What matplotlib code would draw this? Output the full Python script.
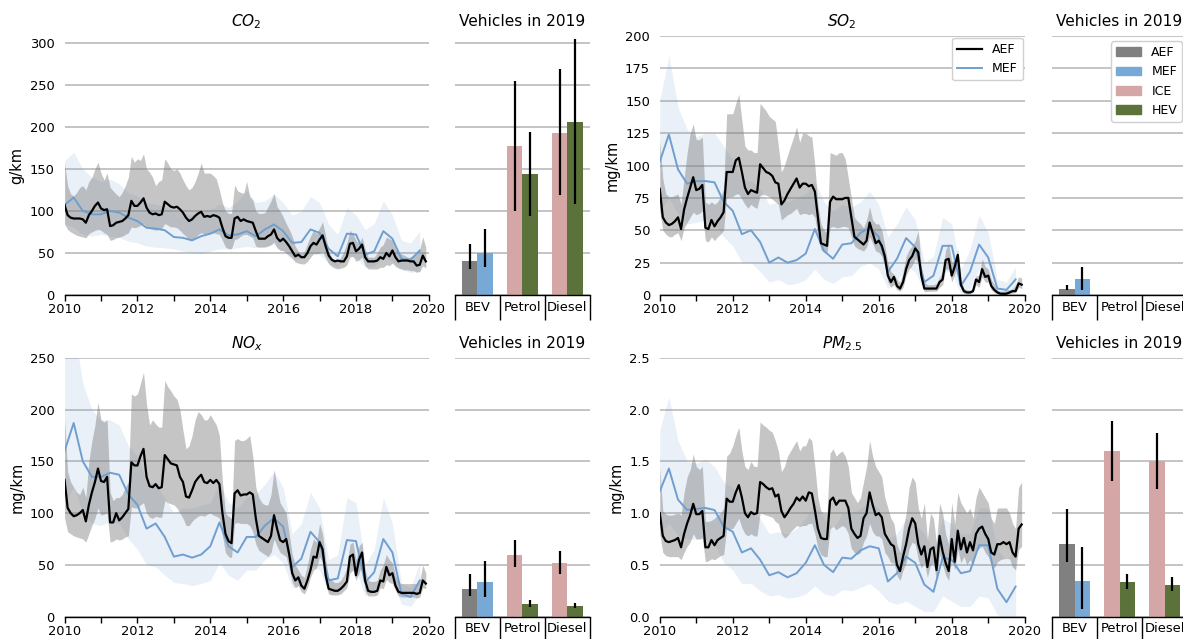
import numpy as np
import matplotlib
matplotlib.use('Agg')
import matplotlib.pyplot as plt
from matplotlib.patches import Patch
from matplotlib.lines import Line2D
from matplotlib.ticker import MultipleLocator

plt.rcParams['font.family'] = ['DejaVu Sans']

# ---------------- data ----------------
start_year = 2010
categories = ['BEV', 'Petrol', 'Diesel']

# CO2 (g/km) - monthly average emission factor (AEF) with band
co2_aef = [107, 95, 92, 91, 91, 91, 90, 86, 95, 100, 106, 110,
           103, 101, 102, 82, 83, 86, 87, 88, 91, 95, 112, 106,
           106, 110, 115, 104, 98, 96, 97, 95, 96, 111, 108, 105,
           104, 105, 102, 98, 92, 88, 90, 94, 97, 99, 93, 94,
           93, 95, 94, 92, 80, 70, 68, 68, 91, 93, 88, 90,
           88, 87, 86, 76, 67, 67, 67, 70, 72, 78, 68, 64,
           67, 63, 58, 52, 46, 48, 45, 45, 50, 58, 62, 60,
           66, 71, 58, 47, 42, 40, 41, 40, 40, 46, 61, 62,
           52, 55, 60, 45, 40, 40, 40, 41, 45, 43, 50, 46,
           53, 45, 40, 41, 41, 41, 40, 40, 35, 36, 47, 40]
co2_aef_hi = [157, 130, 120, 118, 122, 128, 130, 125, 135, 140, 150, 158,
              145, 137, 145, 128, 124, 120, 117, 122, 130, 140, 165, 158,
              162, 160, 168, 150, 146, 140, 130, 135, 137, 162, 157, 150,
              148, 150, 145, 137, 130, 125, 128, 135, 145, 157, 145, 145,
              145, 142, 138, 125, 110, 100, 97, 97, 131, 124, 122, 121,
              135, 117, 113, 100, 97, 97, 98, 105, 112, 121, 105, 100,
              93, 85, 78, 70, 58, 52, 49, 52, 61, 70, 77, 73,
              80, 87, 70, 52, 45, 42, 41, 45, 52, 62, 77, 73,
              65, 61, 69, 55, 45, 45, 45, 50, 57, 60, 69, 67,
              65, 55, 50, 49, 47, 45, 45, 47, 49, 55, 69, 57]
co2_aef_lo = [84, 78, 75, 73, 71, 70, 69, 68, 73, 75, 77, 78,
              77, 74, 72, 65, 66, 68, 69, 70, 72, 74, 81, 80,
              81, 83, 85, 81, 79, 78, 77, 78, 79, 85, 83, 81,
              81, 80, 77, 73, 70, 66, 65, 68, 72, 74, 73, 73,
              73, 74, 73, 72, 65, 57, 55, 55, 66, 67, 70, 72,
              72, 70, 68, 58, 57, 57, 57, 58, 60, 63, 56, 53,
              53, 50, 47, 44, 39, 38, 37, 37, 40, 45, 49, 49,
              50, 52, 44, 37, 34, 32, 31, 32, 33, 36, 45, 46,
              40, 42, 45, 35, 31, 31, 31, 31, 33, 33, 36, 35,
              38, 34, 32, 31, 30, 30, 29, 29, 27, 28, 35, 32]
# CO2 quarterly marginal emission factor (MEF) with band
co2_mef = [107, 116, 100, 96, 96, 100, 98, 92, 88, 80, 79, 77, 69, 68, 65, 70, 73, 78, 71, 72,
           76, 70, 78, 84, 76, 62, 63, 78, 74, 55, 46, 73, 72, 48, 52, 76, 67, 43, 42, 53]
co2_mef_hi = [160, 170, 150, 140, 135, 138, 132, 122, 118, 110, 108, 105, 100, 98, 95, 98, 102, 108, 104, 112,
              124, 110, 112, 120, 110, 95, 100, 117, 110, 84, 72, 104, 95, 78, 85, 112, 95, 65, 62, 76]
co2_mef_lo = [85, 80, 72, 70, 72, 70, 68, 64, 62, 58, 57, 56, 55, 52, 50, 49, 52, 55, 55, 56,
              58, 56, 58, 60, 52, 42, 44, 52, 48, 38, 33, 48, 44, 33, 34, 45, 40, 30, 27, 28]

# SO2 (mg/km)
so2_aef = [82, 60, 56, 54, 55, 57, 60, 51, 66, 75, 83, 91,
           81, 82, 85, 52, 51, 58, 53, 57, 60, 64, 95, 95,
           95, 104, 106, 95, 83, 78, 81, 80, 79, 101, 98, 95,
           94, 92, 87, 86, 70, 73, 78, 82, 86, 90, 83, 86,
           86, 84, 85, 80, 60, 40, 39, 38, 72, 76, 74, 74,
           74, 75, 75, 60, 45, 43, 41, 39, 42, 56, 48, 40,
           42, 38, 30, 15, 10, 14, 7, 5, 10, 20, 27, 30,
           36, 33, 15, 5, 5, 5, 5, 5, 10, 12, 27, 28,
           15, 22, 31, 8, 3, 2, 2, 3, 12, 10, 20, 14,
           15, 7, 4, 2, 1, 1, 1, 2, 3, 3, 9, 8]
so2_aef_hi = [120, 90, 78, 76, 76, 77, 78, 70, 90, 110, 125, 132,
              120, 120, 122, 72, 70, 72, 70, 72, 76, 82, 140, 140,
              140, 148, 155, 135, 115, 112, 112, 110, 110, 148, 145, 142,
              138, 136, 134, 115, 95, 100, 108, 115, 122, 130, 118, 125,
              125, 123, 122, 100, 70, 55, 50, 48, 110, 109, 108, 110,
              110, 105, 90, 75, 60, 57, 55, 52, 58, 68, 58, 55,
              55, 50, 38, 25, 18, 16, 12, 10, 18, 30, 35, 38,
              42, 50, 22, 10, 8, 8, 8, 9, 14, 18, 35, 40,
              25, 28, 35, 12, 5, 4, 4, 5, 15, 15, 28, 22,
              20, 12, 8, 4, 3, 3, 4, 4, 5, 8, 14, 13]
so2_aef_lo = [65, 50, 47, 45, 45, 47, 48, 42, 52, 56, 60, 64,
              62, 63, 65, 42, 41, 45, 42, 45, 47, 50, 75, 76,
              76, 78, 78, 74, 70, 67, 70, 68, 67, 77, 78, 77,
              76, 74, 72, 70, 58, 60, 62, 63, 65, 67, 62, 63,
              63, 62, 63, 60, 45, 35, 33, 32, 52, 53, 52, 52,
              53, 53, 52, 45, 38, 36, 35, 34, 37, 45, 40, 34,
              33, 30, 22, 10, 6, 8, 4, 3, 6, 15, 20, 23,
              28, 25, 10, 3, 3, 3, 3, 3, 6, 8, 20, 20,
              10, 16, 24, 5, 1, 1, 1, 2, 8, 6, 14, 10,
              10, 4, 2, 1, 0.5, 0.5, 0.5, 1, 1.5, 2, 6, 5]
so2_mef = [103, 124, 97, 86, 88, 88, 87, 72, 65, 47, 50, 41, 25, 29, 25, 27, 32, 51, 34, 28,
           39, 40, 48, 52, 45, 18, 28, 44, 37, 10, 15, 38, 38, 7, 18, 39, 29, 5, 4, 12]
so2_mef_hi = [150, 185, 145, 128, 122, 125, 125, 115, 105, 90, 88, 82, 70, 72, 72, 75, 78, 88, 72, 65,
              70, 68, 72, 80, 70, 45, 55, 68, 58, 25, 30, 60, 55, 20, 35, 62, 48, 12, 10, 22]
so2_mef_lo = [65, 75, 62, 55, 56, 58, 55, 45, 38, 25, 25, 18, 10, 12, 8, 9, 12, 20, 12, 9,
              14, 15, 22, 25, 20, 5, 10, 22, 18, 2, 4, 18, 18, 1, 5, 20, 12, 0, 0, 4]

# NOx (mg/km)
nox_aef = [132, 105, 100, 97, 98, 100, 103, 92, 108, 120, 130, 143,
           131, 130, 135, 91, 91, 100, 93, 96, 100, 104, 149, 146,
           146, 155, 162, 135, 126, 125, 128, 124, 125, 156, 152, 148,
           147, 146, 135, 130, 116, 115, 122, 130, 134, 137, 130, 129,
           132, 129, 132, 128, 100, 80, 73, 71, 119, 122, 117, 118,
           118, 120, 118, 95, 78, 76, 74, 72, 78, 98, 85, 74,
           72, 75, 60, 42, 35, 38, 30, 27, 35, 45, 58, 57,
           72, 65, 40, 27, 26, 25, 25, 27, 30, 34, 58, 60,
           40, 55, 62, 35, 25, 24, 24, 25, 35, 34, 48, 40,
           42, 30, 24, 23, 23, 23, 23, 23, 22, 23, 35, 32]
nox_aef_hi = [192, 140, 130, 125, 120, 118, 125, 115, 150, 170, 185, 207,
              190, 188, 190, 120, 112, 115, 115, 118, 125, 130, 215, 213,
              215, 225, 236, 205, 185, 190, 186, 183, 183, 228, 222, 218,
              213, 210, 200, 180, 162, 165, 175, 190, 198, 195, 190, 190,
              195, 190, 185, 175, 130, 100, 97, 95, 170, 172, 170, 170,
              172, 175, 155, 125, 115, 110, 108, 108, 118, 142, 125, 110,
              105, 100, 80, 60, 50, 45, 40, 38, 50, 65, 75, 72,
              90, 80, 55, 38, 35, 33, 33, 35, 40, 48, 70, 72,
              55, 68, 72, 45, 35, 34, 34, 35, 45, 50, 60, 55,
              52, 40, 33, 32, 32, 32, 32, 32, 32, 35, 50, 42]
nox_aef_lo = [95, 82, 80, 78, 77, 76, 75, 72, 80, 88, 95, 105,
              98, 99, 100, 72, 73, 75, 74, 75, 77, 78, 106, 105,
              105, 108, 110, 100, 96, 95, 97, 96, 96, 112, 110, 109,
              108, 105, 100, 95, 88, 88, 92, 95, 97, 98, 97, 99,
              100, 98, 97, 95, 78, 62, 58, 57, 90, 91, 90, 90,
              90, 88, 82, 70, 64, 62, 60, 58, 62, 75, 68, 62,
              60, 58, 46, 33, 28, 30, 24, 22, 28, 38, 45, 47,
              58, 52, 32, 22, 21, 21, 21, 22, 25, 28, 42, 45,
              35, 42, 50, 25, 20, 20, 20, 21, 28, 27, 36, 33,
              32, 25, 20, 19, 19, 19, 19, 19, 18, 19, 28, 27]
nox_mef = [160, 187, 150, 135, 135, 139, 137, 118, 108, 85, 90, 77, 58, 60, 57, 60, 68, 91, 68, 62,
           77, 77, 88, 95, 87, 48, 56, 82, 72, 35, 37, 74, 73, 33, 43, 75, 62, 22, 19, 35]
nox_mef_hi = [248, 280, 225, 200, 190, 190, 185, 165, 155, 130, 128, 115, 100, 105, 105, 108, 110, 130, 110, 105,
              115, 118, 128, 140, 125, 80, 90, 120, 105, 55, 60, 115, 110, 50, 65, 115, 90, 32, 28, 52]
nox_mef_lo = [110, 125, 100, 90, 88, 92, 90, 75, 65, 50, 48, 40, 33, 32, 30, 32, 35, 52, 40, 35,
              45, 45, 55, 60, 52, 28, 30, 50, 45, 22, 22, 45, 45, 20, 25, 45, 35, 12, 10, 22]

# PM2.5 (mg/km)
pm_aef = [1.00, 0.78, 0.73, 0.72, 0.73, 0.74, 0.76, 0.67, 0.80, 0.90, 0.98, 1.09,
          0.99, 0.99, 1.02, 0.67, 0.67, 0.74, 0.69, 0.74, 0.76, 0.78, 1.14, 1.11,
          1.11, 1.20, 1.27, 1.15, 1.00, 0.96, 1.01, 0.99, 1.00, 1.30, 1.28, 1.25,
          1.23, 1.24, 1.16, 1.18, 1.02, 0.96, 1.00, 1.05, 1.09, 1.15, 1.12, 1.16,
          1.12, 1.20, 1.19, 1.03, 0.85, 0.76, 0.75, 0.75, 1.12, 1.15, 1.08, 1.12,
          1.12, 1.12, 1.05, 0.85, 0.80, 0.76, 0.78, 0.95, 1.00, 1.20, 1.08, 0.98,
          1.00, 0.96, 0.80, 0.75, 0.70, 0.68, 0.50, 0.44, 0.58, 0.70, 0.85, 0.95,
          0.90, 0.70, 0.60, 0.68, 0.48, 0.65, 0.67, 0.45, 0.78, 0.63, 0.52, 0.44,
          0.75, 0.53, 0.83, 0.65, 0.76, 0.62, 0.72, 0.64, 0.80, 0.85, 0.87, 0.80,
          0.75, 0.62, 0.60, 0.70, 0.70, 0.72, 0.70, 0.72, 0.62, 0.58, 0.85, 0.89]
pm_aef_hi = [1.45, 1.02, 0.99, 0.98, 0.98, 0.99, 1.00, 0.98, 1.20, 1.35, 1.42, 1.57,
             1.45, 1.42, 1.45, 0.92, 0.92, 0.93, 0.95, 0.98, 1.00, 1.05, 1.55, 1.58,
             1.65, 1.75, 1.83, 1.60, 1.45, 1.42, 1.50, 1.45, 1.45, 1.88, 1.85, 1.83,
             1.80, 1.78, 1.70, 1.60, 1.40, 1.45, 1.55, 1.60, 1.65, 1.70, 1.60, 1.65,
             1.65, 1.73, 1.70, 1.45, 1.15, 1.02, 1.00, 1.00, 1.58, 1.62, 1.55, 1.58,
             1.60, 1.55, 1.45, 1.20, 1.15, 1.10, 1.15, 1.30, 1.45, 1.70, 1.55, 1.45,
             1.40, 1.35, 1.15, 1.05, 0.95, 0.90, 0.70, 0.62, 0.85, 1.00, 1.25, 1.35,
             1.30, 1.05, 0.95, 1.10, 0.75, 1.00, 0.95, 0.70, 1.10, 1.00, 0.80, 0.70,
             1.10, 0.90, 1.20, 1.10, 1.05, 1.00, 1.05, 0.95, 1.15, 1.25, 1.20, 1.15,
             1.10, 0.95, 0.90, 1.05, 1.05, 1.05, 1.05, 1.00, 0.90, 0.85, 1.25, 1.30]
pm_aef_lo = [0.80, 0.62, 0.59, 0.58, 0.58, 0.58, 0.58, 0.55, 0.62, 0.68, 0.72, 0.80,
             0.75, 0.75, 0.76, 0.53, 0.54, 0.56, 0.55, 0.57, 0.59, 0.60, 0.85, 0.85,
             0.85, 0.90, 0.95, 0.86, 0.80, 0.78, 0.80, 0.78, 0.78, 1.00, 0.99, 0.98,
             0.97, 0.96, 0.92, 0.90, 0.80, 0.76, 0.78, 0.82, 0.85, 0.88, 0.87, 0.88,
             0.88, 0.90, 0.90, 0.80, 0.66, 0.60, 0.58, 0.58, 0.85, 0.87, 0.84, 0.86,
             0.88, 0.86, 0.80, 0.66, 0.62, 0.60, 0.62, 0.72, 0.78, 0.90, 0.82, 0.78,
             0.78, 0.75, 0.62, 0.58, 0.52, 0.52, 0.40, 0.35, 0.45, 0.52, 0.66, 0.72,
             0.70, 0.55, 0.47, 0.52, 0.38, 0.50, 0.52, 0.35, 0.60, 0.50, 0.40, 0.35,
             0.58, 0.45, 0.65, 0.52, 0.58, 0.50, 0.55, 0.50, 0.62, 0.66, 0.68, 0.62,
             0.58, 0.50, 0.47, 0.53, 0.55, 0.56, 0.56, 0.56, 0.48, 0.45, 0.65, 0.68]
pm_mef = [1.21, 1.43, 1.13, 1.03, 1.04, 1.05, 1.03, 0.87, 0.82, 0.62, 0.66, 0.55, 0.40, 0.43, 0.38, 0.42,
          0.52, 0.69, 0.50, 0.43, 0.57, 0.56, 0.64, 0.68, 0.66, 0.34, 0.42, 0.58, 0.52, 0.31, 0.24, 0.57,
          0.55, 0.42, 0.44, 0.69, 0.69, 0.27, 0.14, 0.29]
pm_mef_hi = [1.80, 2.12, 1.70, 1.50, 1.48, 1.52, 1.45, 1.30, 1.25, 1.05, 1.00, 0.95, 0.80, 0.82, 0.80, 0.85,
             0.95, 1.10, 0.95, 0.85, 1.00, 1.00, 1.05, 1.10, 1.05, 0.75, 0.80, 0.95, 0.90, 0.80, 0.65, 0.95,
             0.90, 0.80, 0.80, 1.05, 1.05, 0.65, 0.55, 0.65]
pm_mef_lo = [0.80, 0.90, 0.78, 0.75, 0.75, 0.75, 0.70, 0.52, 0.45, 0.32, 0.32, 0.25, 0.20, 0.21, 0.18, 0.19,
             0.22, 0.30, 0.22, 0.20, 0.26, 0.25, 0.28, 0.32, 0.25, 0.15, 0.12, 0.15, 0.10, 0.05, 0.05, 0.20,
             0.15, 0.10, 0.10, 0.20, 0.18, 0.02, -0.02, 0.00]

# Vehicles in 2019: left bar (BEV: AEF, others: ICE), right bar (BEV: MEF, others: HEV)
co2_bar_left = [41, 177, 193]
co2_bar_left_lo = [31, 100, 119]
co2_bar_left_hi = [61, 255, 269]
co2_bar_right = [50, 144, 206]
co2_bar_right_lo = [33, 94, 108]
co2_bar_right_hi = [78, 194, 304]

so2_bar_left = [4.6, 0, 0]
so2_bar_left_lo = [3.5, 0, 0]
so2_bar_left_hi = [8, 0, 0]
so2_bar_right = [12, 0, 0]
so2_bar_right_lo = [4, 0, 0]
so2_bar_right_hi = [22, 0, 0]

nox_bar_left = [27, 60, 52]
nox_bar_left_lo = [20, 48, 41]
nox_bar_left_hi = [41, 74, 63]
nox_bar_right = [33.5, 12.6, 10.6]
nox_bar_right_lo = [19, 9, 8.7]
nox_bar_right_hi = [54, 16, 13]

pm_bar_left = [0.70, 1.60, 1.50]
pm_bar_left_lo = [0.53, 1.31, 1.23]
pm_bar_left_hi = [1.04, 1.89, 1.77]
pm_bar_right = [0.345, 0.335, 0.31]
pm_bar_right_lo = [0.07, 0.27, 0.25]
pm_bar_right_hi = [0.67, 0.41, 0.38]

# ---------------- style ----------------
C_AEF_LINE = 'black'
C_MEF_LINE = '#6f9fd0'
C_BAR_AEF = '#808080'
C_BAR_MEF = '#78a9d6'
C_BAR_ICE = '#d4a6a6'
C_BAR_HEV = '#5b723a'
C_GRID = '#b4b4b4'
FS_TICK = 9.4
FS_TITLE = 11.1
FS_LABEL = 10.5

months = start_year + np.arange(len(co2_aef)) / 12.0
quarters = start_year + np.arange(len(co2_mef)) / 4.0

fig = plt.figure(figsize=(11.83, 6.39), dpi=100)

panels = [
    dict(title=r'$CO_2$', ylabel='g/km', ylim=(0, 308), step=50, fmt='{:.0f}',
         aef=co2_aef, lo=co2_aef_lo, hi=co2_aef_hi, mef=co2_mef, mlo=co2_mef_lo, mhi=co2_mef_hi,
         bl=co2_bar_left, bllo=co2_bar_left_lo, blhi=co2_bar_left_hi,
         br=co2_bar_right, brlo=co2_bar_right_lo, brhi=co2_bar_right_hi,
         lpos=[0.0546, 0.5383, 0.3079, 0.4053], bpos=[0.3846, 0.5383, 0.1141, 0.4053]),
    dict(title=r'$SO_2$', ylabel='mg/km', ylim=(0, 200), step=25, fmt='{:.0f}',
         aef=so2_aef, lo=so2_aef_lo, hi=so2_aef_hi, mef=so2_mef, mlo=so2_mef_lo, mhi=so2_mef_hi,
         bl=so2_bar_left, bllo=so2_bar_left_lo, blhi=so2_bar_left_hi,
         br=so2_bar_right, brlo=so2_bar_right_lo, brhi=so2_bar_right_hi,
         lpos=[0.5577, 0.5383, 0.3085, 0.4053], bpos=[0.8893, 0.5383, 0.1141, 0.4053]),
    dict(title=r'$NO_x$', ylabel='mg/km', ylim=(0, 250), step=50, fmt='{:.0f}',
         aef=nox_aef, lo=nox_aef_lo, hi=nox_aef_hi, mef=nox_mef, mlo=nox_mef_lo, mhi=nox_mef_hi,
         bl=nox_bar_left, bllo=nox_bar_left_lo, blhi=nox_bar_left_hi,
         br=nox_bar_right, brlo=nox_bar_right_lo, brhi=nox_bar_right_hi,
         lpos=[0.0546, 0.0349, 0.3079, 0.4053], bpos=[0.3846, 0.0349, 0.1141, 0.4053]),
    dict(title=r'$PM_{2.5}$', ylabel='mg/km', ylim=(0, 2.5), step=0.5, fmt='{:.1f}',
         aef=pm_aef, lo=pm_aef_lo, hi=pm_aef_hi, mef=pm_mef, mlo=pm_mef_lo, mhi=pm_mef_hi,
         bl=pm_bar_left, bllo=pm_bar_left_lo, blhi=pm_bar_left_hi,
         br=pm_bar_right, brlo=pm_bar_right_lo, brhi=pm_bar_right_hi,
         lpos=[0.5577, 0.0349, 0.3085, 0.4053], bpos=[0.8893, 0.0349, 0.1141, 0.4053]),
]

for i, p in enumerate(panels):
    # ---------- time series ----------
    ax = fig.add_axes(p['lpos'])
    ax.fill_between(quarters, p['mlo'], p['mhi'], color=C_MEF_LINE, alpha=0.15, lw=0, zorder=1)
    ax.fill_between(months, p['lo'], p['hi'], color='gray', alpha=0.45, lw=0, zorder=2)
    ax.plot(quarters, p['mef'], color=C_MEF_LINE, lw=1.4, zorder=3, label='MEF')
    ax.plot(months, p['aef'], color=C_AEF_LINE, lw=1.6, zorder=4, label='AEF')
    ax.set_xlim(2010, 2020)
    ax.set_ylim(*p['ylim'])
    ax.xaxis.set_major_locator(MultipleLocator(2))
    ax.xaxis.set_minor_locator(MultipleLocator(1))
    ax.yaxis.set_major_locator(MultipleLocator(p['step']))
    ax.yaxis.set_major_formatter(matplotlib.ticker.FuncFormatter(lambda v, pos, f=p['fmt']: f.format(v)))
    ax.grid(axis='y', color=C_GRID, lw=1.1, zorder=0)
    ax.set_axisbelow(True)
    for s in ['top', 'right', 'left']:
        ax.spines[s].set_visible(False)
    ax.spines['bottom'].set_linewidth(1.0)
    ax.tick_params(axis='x', which='both', length=4, width=1.0, labelsize=FS_TICK, pad=2)
    ax.tick_params(axis='y', length=0, labelsize=FS_TICK, pad=7)
    ax.set_ylabel(p['ylabel'], fontsize=FS_LABEL, labelpad=4)
    ax.set_title(p['title'], fontsize=FS_TITLE, pad=7)
    if i == 1:
        handles = [Line2D([], [], color=C_AEF_LINE, lw=1.6, label='AEF'),
                   Line2D([], [], color=C_MEF_LINE, lw=1.4, label='MEF')]
        ax.legend(handles=handles, loc='upper right', fontsize=9, borderaxespad=0.15,
                  framealpha=1, edgecolor='#d0d0d0')

    # ---------- bars ----------
    bx = fig.add_axes(p['bpos'])
    xc = np.arange(len(categories))
    w = 0.34
    left_colors = [C_BAR_AEF, C_BAR_ICE, C_BAR_ICE]
    right_colors = [C_BAR_MEF, C_BAR_HEV, C_BAR_HEV]
    bl = np.array(p['bl'], dtype=float)
    br = np.array(p['br'], dtype=float)
    bx.bar(xc - w / 2, bl, width=w, color=left_colors, zorder=2)
    bx.bar(xc + w / 2, br, width=w, color=right_colors, zorder=2)
    bx.errorbar(xc - w / 2, bl, yerr=[bl - np.array(p['bllo']), np.array(p['blhi']) - bl],
                fmt='none', ecolor='black', elinewidth=1.6, capsize=0, zorder=3)
    bx.errorbar(xc + w / 2, br, yerr=[br - np.array(p['brlo']), np.array(p['brhi']) - br],
                fmt='none', ecolor='black', elinewidth=1.6, capsize=0, zorder=3)
    bx.set_xlim(-0.5, 2.5)
    bx.set_ylim(*p['ylim'])
    bx.yaxis.set_major_locator(MultipleLocator(p['step']))
    bx.grid(axis='y', color=C_GRID, lw=1.1, zorder=0)
    bx.set_axisbelow(True)
    for s in ['top', 'right', 'left']:
        bx.spines[s].set_visible(False)
    bx.spines['bottom'].set_linewidth(1.0)
    bx.tick_params(axis='y', length=0, labelleft=False)
    bx.set_xticks(xc)
    bx.set_xticklabels(categories)
    bx.set_xticks([-0.5, 0.5, 1.5, 2.5], minor=True)
    bx.tick_params(axis='x', which='major', length=0, labelsize=FS_TICK, pad=4)
    bx.tick_params(axis='x', which='minor', length=18, width=1.0)
    bx.set_title('Vehicles in 2019', fontsize=FS_TITLE, pad=7)
    if i == 1:
        handles = [Patch(color=C_BAR_AEF, label='AEF'), Patch(color=C_BAR_MEF, label='MEF'),
                   Patch(color=C_BAR_ICE, label='ICE'), Patch(color=C_BAR_HEV, label='HEV')]
        bx.legend(handles=handles, loc='upper right', fontsize=9, borderaxespad=0.4,
                  framealpha=1, edgecolor='#d0d0d0')

fig.savefig('out.png', dpi=100)
